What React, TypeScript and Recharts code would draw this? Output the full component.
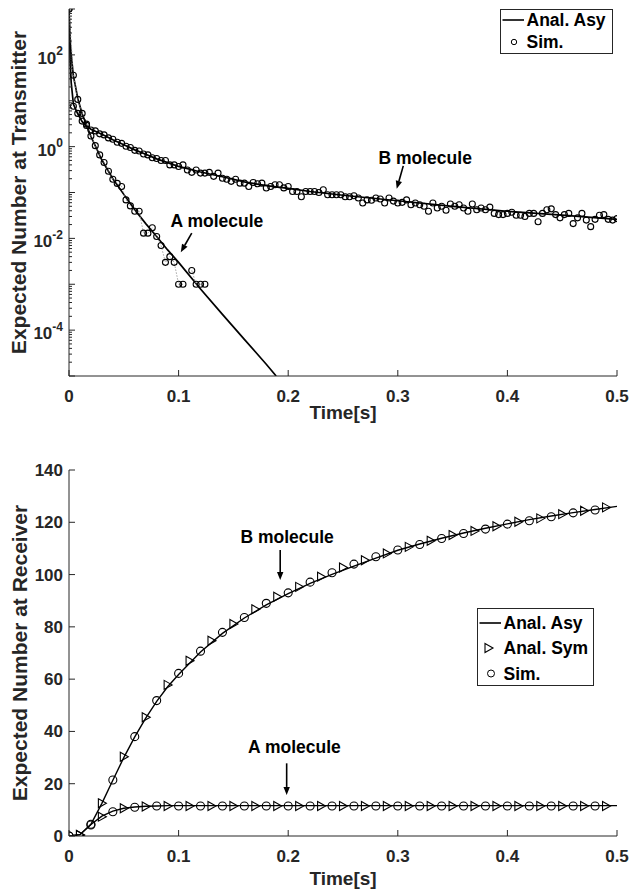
import React from 'react';
import { LineChart, Line, XAxis, YAxis, ReferenceLine, ReferenceDot, Legend } from 'recharts';

const FONT = '"Liberation Sans", Arial, Helvetica, sans-serif';
const INK = '#262626';

// ---- top panel: expected number at transmitter (log scale) ----
const simStepTx = 0.004;
const aSimTx = [
  1000, 36, 10.7, 5.3, 3.1, 1.7, 1.05, 0.66, 0.45, 0.29, 0.195, 0.158, 0.135, 0.069, 0.051, 0.039,
  0.039, 0.013, 0.013, 0.017, 0.011, 0.007, 0.003, 0.004, 0.003, 0.001, 0.001, null, 0.002, 0.001,
  0.001, 0.001,
];
const bSimTx = [
  1000, 7.6, 5.3, 3.6, 2.9, 2.3, 2.2, 1.9, 1.8, 1.55, 1.45, 1.25, 1.18, 1.02, 0.96, 0.83,
  0.8, 0.69, 0.66, 0.57, 0.55, 0.5, 0.5, 0.4, 0.4, 0.37, 0.4, 0.31, 0.275, 0.31, 0.265, 0.265,
  0.275, 0.225, 0.265, 0.205, 0.195, 0.175, 0.195, 0.16, 0.16, 0.135, 0.165, 0.155, 0.16, 0.125,
  0.135, 0.148, 0.148, 0.126, 0.135, 0.105, 0.105, 0.081, 0.105, 0.105, 0.105, 0.1, 0.115, 0.089,
  0.089, 0.089, 0.089, 0.081, 0.081, 0.085, 0.076, 0.059, 0.069, 0.068, 0.076, 0.072, 0.059, 0.076,
  0.065, 0.059, 0.061, 0.069, 0.054, 0.059, 0.054, 0.05, 0.039, 0.059, 0.046, 0.05, 0.041, 0.056,
  0.05, 0.054, 0.046, 0.039, 0.056, 0.042, 0.046, 0.042, 0.048, 0.035, 0.033, 0.033, 0.035, 0.037,
  0.032, 0.032, 0.03, 0.035, 0.035, 0.023, 0.035, 0.042, 0.044, 0.033, 0.028, 0.033, 0.035, 0.021,
  0.028, 0.035, 0.025, 0.018, 0.026, 0.032, 0.033, 0.026, 0.025, 0.027,
];
const aAsyTimeTx = [
  0, 0.001, 0.002, 0.004, 0.006, 0.008, 0.012, 0.016, 0.02, 0.025, 0.03, 0.04, 0.05, 0.06, 0.07,
  0.08, 0.09, 0.1, 0.12, 0.14, 0.16, 0.18, 0.189,
];
const aAsyTx = [
  1000, 200, 100, 35, 20, 11.2, 5.2, 2.95, 1.66, 0.93, 0.51, 0.2, 0.091, 0.042, 0.021, 0.011,
  0.0056, 0.003, 0.00079, 0.00022, 0.000063, 0.000018, 0.00001,
];
const bAsyTimeTx = [
  0, 0.001, 0.002, 0.004, 0.006, 0.008, 0.012, 0.016, 0.02, 0.03, 0.04, 0.05, 0.06, 0.07, 0.08,
  0.09, 0.1, 0.12, 0.14, 0.16, 0.18, 0.2, 0.22, 0.25, 0.3, 0.35, 0.4, 0.45, 0.5,
];
const bAsyTx = [
  1000, 79, 25, 8.5, 6.6, 5.2, 3.5, 2.8, 2.4, 1.86, 1.41, 1.1, 0.85, 0.68, 0.54, 0.447, 0.37,
  0.28, 0.22, 0.17, 0.141, 0.123, 0.105, 0.087, 0.066, 0.05, 0.039, 0.032, 0.026,
];
const logLabelExps = [2, 0, -2, -4];

// ---- bottom panel: expected number at receiver ----
const simTimeRx = [
  0, 0.02, 0.04, 0.06, 0.08, 0.1, 0.12, 0.14, 0.16, 0.18, 0.2, 0.22, 0.24, 0.26, 0.28, 0.3, 0.32,
  0.34, 0.36, 0.38, 0.4, 0.42, 0.44, 0.46, 0.48,
];
const bSimRx = [
  0, 4.5, 21.4, 38, 51.8, 62.2, 70.7, 77.9, 83.6, 89, 93, 97.1, 100.7, 104, 106.8, 109.4, 111.5,
  113.8, 115.7, 117.4, 119.3, 120.6, 122.1, 123.6, 124.7,
];
const aSimRx = [
  0, 4.2, 9.3, 11, 11.5, 11.5, 11.5, 11.5, 11.5, 11.5, 11.5, 11.5, 11.5, 11.5, 11.5, 11.5, 11.5,
  11.5, 11.5, 11.5, 11.5, 11.5, 11.5, 11.5, 11.5,
];
const symTimeRx = [
  0.01, 0.03, 0.05, 0.07, 0.09, 0.11, 0.13, 0.15, 0.17, 0.19, 0.21, 0.23, 0.25, 0.27, 0.29, 0.31,
  0.33, 0.35, 0.37, 0.39, 0.41, 0.43, 0.45, 0.47, 0.49,
];
const bSymRx = [
  0.4, 12.5, 30.3, 45.4, 57.8, 67, 74.7, 81.1, 86.7, 91.5, 95.3, 99.2, 102.7, 105.5, 108.1, 110.6,
  112.9, 115.1, 116.7, 118.5, 120.2, 121.5, 123.1, 124.4, 125.7,
];
const aSymRx = [
  0.4, 7.4, 10.6, 11.3, 11.5, 11.5, 11.5, 11.5, 11.5, 11.5, 11.5, 11.5, 11.5, 11.5, 11.5, 11.5,
  11.5, 11.5, 11.5, 11.5, 11.5, 11.5, 11.5, 11.5, 11.5,
];
const asyTimeRx = [
  0, 0.01, 0.02, 0.03, 0.04, 0.05, 0.06, 0.07, 0.08, 0.09, 0.1, 0.12, 0.14, 0.16, 0.18, 0.2, 0.22,
  0.24, 0.26, 0.28, 0.3, 0.32, 0.34, 0.36, 0.38, 0.4, 0.42, 0.44, 0.46, 0.48, 0.5,
];
const bAsyRx = [
  0, 0.5, 4.5, 12.5, 21.3, 30, 37.9, 45.1, 51.5, 57.1, 61.8, 70.4, 77.5, 83.4, 88.4, 92.7, 96.6,
  100.1, 103.2, 106.3, 109.3, 111.7, 113.9, 115.9, 117.7, 119.4, 121, 122.4, 123.7, 124.9, 126.1,
];
const aAsyRx = [
  0, 0.5, 4.4, 7.6, 9.5, 10.6, 11.1, 11.4, 11.5, 11.6, 11.6, 11.6, 11.6, 11.6, 11.6, 11.6, 11.6,
  11.6, 11.6, 11.6, 11.6, 11.6, 11.6, 11.6, 11.6, 11.6, 11.6, 11.6, 11.6, 11.6, 11.6,
];
const yTicksRx = [0, 20, 40, 60, 80, 100, 120, 140];

const xTicks = [0, 0.1, 0.2, 0.3, 0.4, 0.5];
const xTickLabels = ['0', '0.1', '0.2', '0.3', '0.4', '0.5'];

const logTicks: number[] = [];
for (let e = -5; e <= 2; e++) for (let m = 1; m <= 9; m++) logTicks.push(m * Math.pow(10, e));
logTicks.push(1000);

const rowsByStep = (vals: (number | null)[], step: number) => vals.map((v, i) => ({ t: i * step, v }));
const rowsByTime = (ts: number[], vals: number[]) => ts.map((t, i) => ({ t, v: vals[i] }));

const txt = { fontFamily: FONT, fontWeight: 700, fill: INK } as const;

function isDecade(v: number) {
  const l = Math.log10(v);
  return Math.abs(l - Math.round(l)) < 1e-6;
}

function BottomTick(p: any) {
  const i = xTicks.indexOf(p.payload.value);
  return (
    <g>
      <line x1={p.x} x2={p.x} y1={p.y} y2={p.y - 6} stroke={INK} />
      <text x={p.x} y={p.y + 26} textAnchor="middle" fontSize={17} {...txt}>{xTickLabels[i]}</text>
    </g>
  );
}
function TopTick(p: any) {
  return <line x1={p.x} x2={p.x} y1={p.y} y2={p.y + 6} stroke={INK} />;
}
function LogLeftTick(p: any) {
  const v = p.payload.value;
  const major = isDecade(v);
  const e = Math.round(Math.log10(v));
  return (
    <g>
      <line x1={p.x} x2={p.x + (major ? 6 : 3)} y1={p.y} y2={p.y} stroke={INK} />
      {major && logLabelExps.includes(e) && (
        <text x={p.x - 6} y={p.y + 9} textAnchor="end" fontSize={17} {...txt}>
          10<tspan dy={-8.5} fontSize={12}>{String(e)}</tspan>
        </text>
      )}
    </g>
  );
}
function LogRightTick(p: any) {
  const major = isDecade(p.payload.value);
  return <line x1={p.x} x2={p.x - (major ? 6 : 3)} y1={p.y} y2={p.y} stroke={INK} />;
}
function LinLeftTick(p: any) {
  return (
    <g>
      <line x1={p.x} x2={p.x + 6} y1={p.y} y2={p.y} stroke={INK} />
      <text x={p.x - 6} y={p.y + 6} textAnchor="end" fontSize={17} {...txt}>{p.payload.value}</text>
    </g>
  );
}
function LinRightTick(p: any) {
  return <line x1={p.x} x2={p.x - 6} y1={p.y} y2={p.y} stroke={INK} />;
}

const xTitle = (dy: number) => (props: any) => {
  const vb = props.viewBox;
  return (
    <text x={vb.x + vb.width / 2} y={vb.y + dy} textAnchor="middle" fontSize={19} {...txt}>Time[s]</text>
  );
};
const yTitle = (label: string, dx: number) => (props: any) => {
  const vb = props.viewBox;
  const cx = vb.x + dx;
  const cy = vb.y + vb.height / 2;
  return (
    <text x={cx} y={cy} textAnchor="middle" fontSize={21} transform={`rotate(-90, ${cx}, ${cy})`} {...txt}>
      {label}
    </text>
  );
};

const circleDot = (r: number) => (p: any) => {
  const { cx, cy, index } = p;
  if (cx == null || cy == null || p.value == null) return <g key={`c${index}`} />;
  return <circle key={`c${index}`} cx={cx} cy={cy} r={r} fill="none" stroke="#000" strokeWidth={1.1} />;
};
const triDot = (p: any) => {
  const { cx, cy, index } = p;
  if (cx == null || cy == null) return <g key={`t${index}`} />;
  return (
    <path key={`t${index}`} d={`M${cx - 3.5},${cy - 4.5}L${cx + 4.5},${cy}L${cx - 3.5},${cy + 4.5}Z`}
      fill="none" stroke="#000" strokeWidth={1.1} />
  );
};

const arrowShape = (p: any) => {
  const { x1, y1, x2, y2 } = p;
  const a = Math.atan2(y2 - y1, x2 - x1);
  const L = 8, W = 3.2;
  const bx = x2 - L * Math.cos(a), by = y2 - L * Math.sin(a);
  const nx = -Math.sin(a) * W, ny = Math.cos(a) * W;
  return (
    <g>
      <line x1={x1} y1={y1} x2={bx} y2={by} stroke="#000" strokeWidth={1.6} />
      <polygon points={`${x2},${y2} ${bx + nx},${by + ny} ${bx - nx},${by - ny}`} fill="#000" />
    </g>
  );
};
const textShape = (label: string) => (p: any) => (
  <text x={p.cx} y={p.cy + 6} textAnchor="middle" fontSize={17.5} {...txt} fill="#000">{label}</text>
);

function LegendBox({ rows, w, h }: { rows: { kind: string; label: string; y: number }[]; w: number; h: number }) {
  return (
    <svg width={w} height={h} style={{ display: 'block' }}>
      <rect x={0.5} y={0.5} width={w - 1} height={h - 1} fill="#fff" stroke={INK} />
      {rows.map((r) => (
        <g key={r.label}>
          {r.kind === 'line' && <line x1={2.5} x2={24} y1={r.y} y2={r.y} stroke="#000" strokeWidth={1.6} />}
          {r.kind === 'circle' && <circle cx={14} cy={r.y} r={w > 114 ? 3.5 : 2.7} fill="none" stroke="#000" />}
          {r.kind === 'tri' && (
            <path d={`M${8},${r.y - 4.5}L${16},${r.y}L${8},${r.y + 4.5}Z`} fill="none" stroke="#000" strokeWidth={1.1} />
          )}
          <text x={26.5} y={r.y + 6.3} fontSize={17.5} {...txt} fill="#000">{r.label}</text>
        </g>
      ))}
    </svg>
  );
}

const axisLine = { stroke: INK, strokeWidth: 1 };

function TransmitterChart() {
  return (
    <LineChart width={631} height={440} margin={{ top: 9, right: 14, bottom: 0, left: 9 }}>
      <XAxis dataKey="t" type="number" domain={[0, 0.5]} ticks={xTicks} interval={0} height={64}
        tickSize={0} tickMargin={0} tickLine={false} axisLine={axisLine} tick={BottomTick}
        allowDataOverflow label={xTitle(43)} />
      <XAxis xAxisId="top" dataKey="t" orientation="top" type="number" domain={[0, 0.5]} ticks={xTicks}
        interval={0} height={0} tickSize={0} tickMargin={0} tickLine={false} axisLine={axisLine}
        tick={TopTick} allowDataOverflow />
      <YAxis type="number" scale="log" domain={[1e-5, 1000]} ticks={logTicks} interval={0} width={60}
        tickSize={0} tickMargin={0} tickLine={false} axisLine={axisLine} tick={LogLeftTick}
        allowDataOverflow label={yTitle('Expected Number at Transmitter', 17)} />
      <YAxis yAxisId="right" orientation="right" type="number" scale="log" domain={[1e-5, 1000]}
        ticks={logTicks} interval={0} width={0} tickSize={0} tickMargin={0} tickLine={false}
        axisLine={axisLine} tick={LogRightTick} allowDataOverflow />

      <Line data={rowsByTime(aAsyTimeTx, aAsyTx)} dataKey="v" stroke="#000" strokeWidth={1.7}
        dot={false} isAnimationActive={false} />
      <Line data={rowsByTime(bAsyTimeTx, bAsyTx)} dataKey="v" stroke="#000" strokeWidth={1.7}
        dot={false} isAnimationActive={false} />
      <Line data={rowsByStep(aSimTx, simStepTx)} dataKey="v" stroke="#8c8c8c" strokeWidth={0.8}
        strokeDasharray="1.5 1.5" dot={circleDot(3)} isAnimationActive={false} />
      <Line data={rowsByStep(bSimTx, simStepTx)} dataKey="v" stroke="none" dot={circleDot(3)}
        isAnimationActive={false} />

      <ReferenceDot x={0.135} y={0.0235} shape={textShape('A molecule')} />
      <ReferenceLine segment={[{ x: 0.112, y: 0.013 }, { x: 0.102, y: 0.005 }]} shape={arrowShape} />
      <ReferenceDot x={0.325} y={0.567} shape={textShape('B molecule')} />
      <ReferenceLine segment={[{ x: 0.305, y: 0.38 }, { x: 0.299, y: 0.12 }]} shape={arrowShape} />

      <Legend layout="vertical" align="center" verticalAlign="middle"
        wrapperStyle={{ left: 500, top: 9, width: 113, height: 45 }}
        content={() => (
          <LegendBox w={113} h={45} rows={[
            { kind: 'line', label: 'Anal. Asy', y: 11 },
            { kind: 'circle', label: 'Sim.', y: 33 },
          ]} />
        )} />
    </LineChart>
  );
}

function ReceiverChart() {
  return (
    <LineChart width={631} height={455} margin={{ top: 30, right: 14, bottom: 0, left: 9 }}>
      <XAxis dataKey="t" type="number" domain={[0, 0.5]} ticks={xTicks} interval={0} height={59}
        tickSize={0} tickMargin={0} tickLine={false} axisLine={axisLine} tick={BottomTick}
        allowDataOverflow label={xTitle(49)} />
      <XAxis xAxisId="top" dataKey="t" orientation="top" type="number" domain={[0, 0.5]} ticks={xTicks}
        interval={0} height={0} tickSize={0} tickMargin={0} tickLine={false} axisLine={axisLine}
        tick={TopTick} allowDataOverflow />
      <YAxis type="number" domain={[0, 140]} ticks={yTicksRx} interval={0} width={60}
        tickSize={0} tickMargin={0} tickLine={false} axisLine={axisLine} tick={LinLeftTick}
        allowDataOverflow label={yTitle('Expected Number at Receiver', 18)} />
      <YAxis yAxisId="right" orientation="right" type="number" domain={[0, 140]} ticks={yTicksRx}
        interval={0} width={0} tickSize={0} tickMargin={0} tickLine={false} axisLine={axisLine}
        tick={LinRightTick} allowDataOverflow />

      <Line data={rowsByTime(asyTimeRx, bAsyRx)} dataKey="v" stroke="#000" strokeWidth={1.4}
        dot={false} isAnimationActive={false} />
      <Line data={rowsByTime(asyTimeRx, aAsyRx)} dataKey="v" stroke="#000" strokeWidth={1.4}
        dot={false} isAnimationActive={false} />
      <Line data={rowsByTime(symTimeRx, bSymRx)} dataKey="v" stroke="none" dot={triDot}
        isAnimationActive={false} />
      <Line data={rowsByTime(symTimeRx, aSymRx)} dataKey="v" stroke="none" dot={triDot}
        isAnimationActive={false} />
      <Line data={rowsByTime(simTimeRx, bSimRx)} dataKey="v" stroke="none" dot={circleDot(4)}
        isAnimationActive={false} />
      <Line data={rowsByTime(simTimeRx, aSimRx)} dataKey="v" stroke="none" dot={circleDot(4)}
        isAnimationActive={false} />

      <ReferenceDot x={0.199} y={114.3} shape={textShape('B molecule')} />
      <ReferenceLine segment={[{ x: 0.1927, y: 109.4 }, { x: 0.1927, y: 97.9 }]} shape={arrowShape} />
      <ReferenceDot x={0.2057} y={34.1} shape={textShape('A molecule')} />
      <ReferenceLine segment={[{ x: 0.1986, y: 27.8 }, { x: 0.1986, y: 15.7 }]} shape={arrowShape} />

      <Legend layout="vertical" align="center" verticalAlign="middle"
        wrapperStyle={{ left: 477, top: 168, width: 117, height: 78 }}
        content={() => (
          <LegendBox w={117} h={78} rows={[
            { kind: 'line', label: 'Anal. Asy', y: 15 },
            { kind: 'tri', label: 'Anal. Sym', y: 40 },
            { kind: 'circle', label: 'Sim.', y: 65.5 },
          ]} />
        )} />
    </LineChart>
  );
}

export default function App() {
  return (
    <div style={{ position: 'absolute', left: 0, top: 0, width: 631, height: 895, background: '#fff' }}>
      <TransmitterChart />
      <ReceiverChart />
    </div>
  );
}
